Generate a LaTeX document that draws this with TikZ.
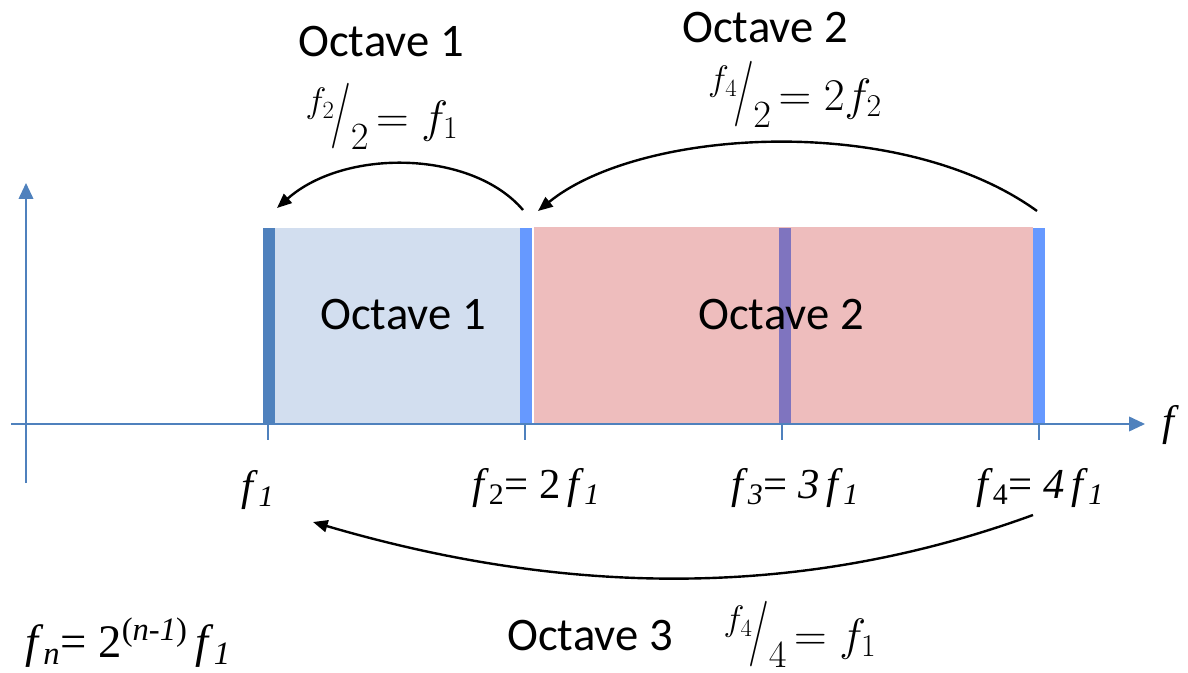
\documentclass[tikz,border=0pt]{standalone}
\usepackage{fix-cm}
\usepackage{fontspec}
\setmainfont{Liberation Serif}
\newfontfamily\calibrifont{Carlito}
\usepackage{graphicx}
\usepackage{xcolor}
\usetikzlibrary{arrows.meta}

\definecolor{axisblue}{HTML}{4F81BD}
\definecolor{octonefill}{HTML}{D2DEEF}
\definecolor{octtwofill}{HTML}{EEBDBD}
\definecolor{edgeblue}{HTML}{6699FF}
\definecolor{midpurple}{HTML}{7F74BF}

% slanted fraction, numerator up and denominator down
\newcommand{\slfrac}[2]{\raisebox{0.42em}{\scalebox{0.78}{$#1$}}\kern-0.08em\scalebox{1}[1.45]{$/$}\kern-0.02em\raisebox{-0.38em}{\scalebox{0.85}{$#2$}}}
\newcommand{\freq}[1]{\textit{f}\textsubscript{#1}}

\begin{document}
\begin{tikzpicture}[
  x=0.75pt, y=-0.75pt,
  oct/.style={font=\calibrifont\fontsize{35}{40}\selectfont, inner sep=0pt},
  eq/.style={font=\fontsize{34}{40}\selectfont, inner sep=0pt},
  flbl/.style={font=\fontsize{32}{36}\selectfont, inner sep=0pt},
  axis/.style={axisblue, line width=1.3pt},
  jump/.style={-{Triangle[length=11pt,width=9pt]}, line width=1.8pt, black},
]
\useasboundingbox (0,0) rectangle (1188,673);
% bands
\fill[octonefill] (263,228) rectangle (521,424);
\fill[octtwofill] (534,227) rectangle (1033,424);
\fill[axisblue] (263,228) rectangle (275,424);
\fill[edgeblue] (520,228) rectangle (532,424);
\fill[midpurple] (779,228) rectangle (791,424);
\fill[edgeblue] (1033,228) rectangle (1045,424);
% axes
\coordinate (xlo) at (11,424);
\coordinate (xhi) at (1145,424);
\coordinate (ylo) at (26,483);
\coordinate (yhi) at (26,183);
\draw[axis, -{Triangle[length=12pt,width=11pt]}] (xlo) -- (xhi);
\draw[axis, -{Triangle[length=12pt,width=11pt]}] (ylo) -- (yhi);
\foreach \x in {268,525,782,1039}
  \draw[axis] (\x,424) -- (\x,440);
\node[flbl, anchor=west] (faxis) at (1162,425) {\textit{f}};

\node[oct] (band1) at (403,315) {Octave 1};
\node[oct] (band2) at (781,315) {Octave 2};

% labels under the axis
\node[flbl] (lf1) at (258,490) {\freq{\textit{1}}};
\node[flbl] (lf2) at (536,488) {\freq{2}= 2\,\freq{\textit{1}}};
\node[flbl] (lf3) at (795,488) {\freq{\textit{3}}= \textit{3}\,\freq{\textit{1}}};
\node[flbl] (lf4) at (1040,488) {\freq{4}= \textit{4}\,\freq{\textit{1}}};
\node[flbl, font=\fontsize{35}{40}\selectfont] (lfn) at (128,643) {\freq{\textit{n}}= 2\textsuperscript{(\textit{n-1})}\,\freq{\textit{1}}};

% octave titles
\node[oct] (top1) at (381,42) {Octave 1};
\node[eq] (eq1) at (382,116) {\slfrac{f_2}{2}$\,=f_1$};
\node[oct] (top2) at (765,28) {Octave 2};
\node[eq] (eq2) at (795,94) {\slfrac{f_4}{2}$\,=2f_2$};
\node[oct] (oct3) at (590,636) {Octave 3};
\node[eq] (eq3) at (800,634) {\slfrac{f_4}{4}$\,=f_1$};

% jumps between octaves
\coordinate (j1s) at (523,210);
\coordinate (j1e) at (277,208);
\coordinate (j2s) at (1037,211);
\coordinate (j2e) at (538,211);
\coordinate (j3s) at (1033,515);
\coordinate (j3e) at (313,522);
\draw[jump] (j1s) .. controls (472,150) and (345,148) .. (j1e);
\draw[jump] (j2s) .. controls (900,112) and (640,128) .. (j2e);
\draw[jump] (j3s) .. controls (800,600) and (565,596) .. (j3e);
\end{tikzpicture}
\end{document}
